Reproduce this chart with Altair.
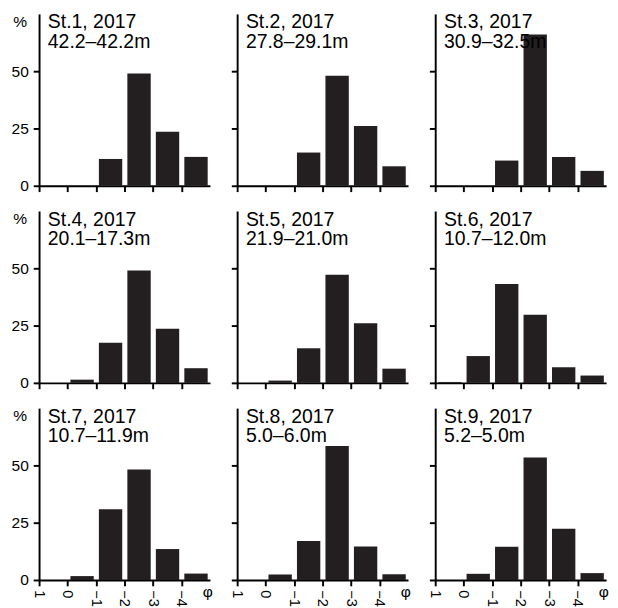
import altair as alt
import pandas as pd

stations = ["St.1", "St.2", "St.3", "St.4", "St.5", "St.6", "St.7", "St.8", "St.9"]
year = "2017"
depths = ["42.2–42.2m", "27.8–29.1m", "30.9–32.5m", "20.1–17.3m", "21.9–21.0m",
          "10.7–12.0m", "10.7–11.9m", "5.0–6.0m", "5.2–5.0m"]
# phi class upper edges (classes: 1~0, 0~-1, -1~-2, -2~-3, -3~-4, -4~)
phi_classes = [1, 0, -1, -2, -3, -4]
phi_ticks = [1, 0, -1, -2, -3, -4]
y_ticks = [0, 25, 50]
percent = [
    [0, 0, 11.7, 49.0, 23.6, 12.6],
    [0, 0, 14.5, 48.0, 26.1, 8.5],
    [0, 0, 11.0, 66.0, 12.6, 6.5],
    [0, 1.4, 17.5, 49.0, 23.6, 6.4],
    [0, 1.0, 15.1, 47.2, 26.0, 6.2],
    [0.4, 11.7, 43.1, 29.7, 6.8, 3.2],
    [0, 1.7, 30.9, 48.2, 13.5, 2.8],
    [0, 2.4, 17.0, 58.5, 14.6, 2.5],
    [0, 2.7, 14.5, 53.5, 22.4, 3.0],
]

W, H = 176, 177
FONT = "Liberation Sans"
BAR = "#231f20"


def panel(i):
    row, col = divmod(i, 3)
    df = pd.DataFrame({"phi": phi_classes, "pct": percent[i]})
    xscale = alt.Scale(domain=[1, -5], nice=False, zero=False)
    yscale = alt.Scale(domain=[0, 75], nice=False)
    xaxis = alt.Axis(values=phi_ticks, labels=(row == 2), labelAngle=90,
                     labelAlign="left", labelBaseline="middle", labelPadding=4,
                     labelFontSize=15, labelFont=FONT, labelColor="black",
                     tickSize=6, tickWidth=2, tickColor="black",
                     domainColor="black", domainWidth=2, grid=False,
                     labelFlush=False, labelOverlap=False, labelBound=False,
                     title=None)
    yaxis = alt.Axis(values=y_ticks, labels=(col == 0), labelPadding=5,
                     labelFontSize=16, labelFont=FONT, labelColor="black",
                     tickSize=6, tickWidth=2, tickColor="black",
                     domainColor="black", domainWidth=2, grid=False,
                     title="%" if col == 0 else None,
                     titleAngle=0, titleX=-20, titleY=8, titleAlign="center",
                     titleBaseline="middle", titleFontSize=16,
                     titleFontWeight="normal", titleFont=FONT, titleColor="black")
    bars = alt.Chart(df).transform_calculate(
        x0="datum.phi - 0.1", x1="datum.phi - 0.92"
    ).mark_rect(color=BAR).encode(
        x=alt.X("x0:Q", scale=xscale, axis=xaxis),
        x2="x1:Q",
        y=alt.Y("pct:Q", scale=yscale, axis=yaxis),
        y2=alt.datum(0),
    )
    lab = alt.Chart(pd.DataFrame({"t": [f"{stations[i]}, {year}\n{depths[i]}"]})).mark_text(
        align="left", baseline="top", fontSize=20, font=FONT,
        color="black", lineBreak="\n", lineHeight=20
    ).encode(x=alt.value(9), y=alt.value(-1), text="t:N")
    layers = [bars, lab]
    if row == 2:
        phi = alt.Chart(pd.DataFrame({"p": [-4.92], "t": ["φ"]})).mark_text(
            align="center", baseline="middle", fontSize=16, font=FONT, color="black"
        ).encode(x=alt.X("p:Q", scale=xscale, axis=xaxis), y=alt.value(H + 13), text="t:N")
        layers.append(phi)
    return alt.layer(*layers).properties(width=W, height=H)


chart = alt.concat(*[panel(i) for i in range(9)], columns=3, spacing=17).properties(
    padding={"left": 3, "top": -4, "right": 1, "bottom": 0},
    background="white",
).configure_view(stroke=None)

chart.save("out.html", embed_options={"renderer": "svg", "actions": False})
